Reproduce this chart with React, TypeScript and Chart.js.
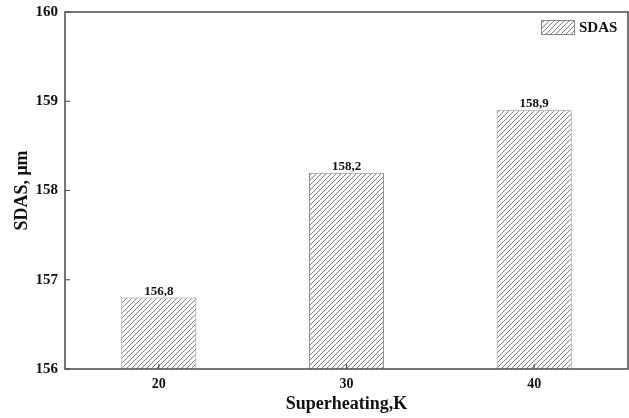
import React, { useEffect, useRef } from "react";
import { Chart, registerables } from "chart.js";

Chart.register(...registerables);

const categories = ["20", "30", "40"];
const sdasValues = [156.8, 158.2, 158.9];
const valueLabels = ["156,8", "158,2", "158,9"];
const yTicks = [156, 157, 158, 159, 160];
const seriesName = "SDAS";
const xTitle = "Superheating,K";
const yTitle = "SDAS, μm";

const FONT = "'Liberation Serif', 'Times New Roman', serif";

function makeHatch(): CanvasPattern | string {
  const s = 5;
  const c = document.createElement("canvas");
  c.width = s;
  c.height = s;
  const g = c.getContext("2d");
  if (!g) return "#fff";
  g.fillStyle = "#fff";
  g.fillRect(0, 0, s, s);
  g.strokeStyle = "#707070";
  g.lineWidth = 0.9;
  g.beginPath();
  g.moveTo(0, s);
  g.lineTo(s, 0);
  g.moveTo(-1, 1);
  g.lineTo(1, -1);
  g.moveTo(s - 1, s + 1);
  g.lineTo(s + 1, s - 1);
  g.stroke();
  const p = g.createPattern(c, "repeat");
  return p || "#fff";
}

export default function App() {
  const ref = useRef<HTMLCanvasElement | null>(null);

  useEffect(() => {
    document.body.style.margin = "0";
    const canvas = ref.current;
    if (!canvas) return;
    const hatch = makeHatch();

    const decor = {
      id: "decor",
      afterDatasetsDraw(chart: any) {
        const { ctx, chartArea, scales } = chart;
        const { left, right, top, bottom } = chartArea;
        ctx.save();
        // frame
        ctx.strokeStyle = "#4a4a4a";
        ctx.lineWidth = 1.5;
        ctx.strokeRect(left, top, right - left, bottom - top);
        // inward ticks
        ctx.lineWidth = 1.2;
        ctx.beginPath();
        yTicks.forEach((v) => {
          const y = scales.y.getPixelForValue(v);
          ctx.moveTo(left, y);
          ctx.lineTo(left + 5, y);
        });
        categories.forEach((_, i) => {
          const x = scales.x.getPixelForValue(i);
          ctx.moveTo(x, bottom);
          ctx.lineTo(x, bottom - 5);
        });
        ctx.stroke();
        // value labels
        ctx.fillStyle = "#111";
        ctx.font = `bold 13px ${FONT}`;
        ctx.textAlign = "center";
        ctx.textBaseline = "alphabetic";
        const meta = chart.getDatasetMeta(0);
        meta.data.forEach((bar: any, i: number) => {
          ctx.fillText(valueLabels[i], bar.x, bar.y - 3);
        });
        // legend
        const bx = 541, by = 20, bw = 34, bh = 15;
        ctx.fillStyle = hatch as any;
        ctx.fillRect(bx, by, bw, bh);
        ctx.strokeStyle = "#888";
        ctx.lineWidth = 1;
        ctx.strokeRect(bx + 0.5, by + 0.5, bw - 1, bh - 1);
        ctx.fillStyle = "#111";
        ctx.font = `bold 15px ${FONT}`;
        ctx.textAlign = "left";
        ctx.textBaseline = "middle";
        ctx.fillText(seriesName, 579, by + bh / 2 + 1);
        ctx.restore();
      },
    };

    const chart = new Chart(canvas, {
      type: "bar",
      data: {
        labels: categories,
        datasets: [
          {
            label: seriesName,
            data: sdasValues,
            backgroundColor: hatch as any,
            borderColor: "#8a8a8a",
            borderWidth: 1,
            barPercentage: 0.4,
            categoryPercentage: 1,
          },
        ],
      },
      options: {
        responsive: false,
        animation: false,
        maintainAspectRatio: false,
        layout: { padding: { top: 12, right: 1, left: 0, bottom: 0 } },
        plugins: {
          legend: { display: false },
          tooltip: { enabled: false },
        },
        scales: {
          x: {
            type: "category",
            offset: true,
            grid: { display: false, drawTicks: false },
            border: { display: false },
            ticks: {
              color: "#111",
              font: { family: FONT, size: 14, weight: "bold" },
              padding: 7,
            },
            title: {
              display: true,
              text: xTitle,
              color: "#111",
              font: { family: FONT, size: 18, weight: "bold" },
              padding: { top: 0, bottom: 3 },
            },
            afterFit(scale: any) {
              scale.height = 49;
              scale.paddingLeft = 0;
              scale.paddingRight = 0;
            },
          },
          y: {
            min: 156,
            max: 160,
            afterBuildTicks(scale: any) {
              scale.ticks = yTicks.map((v) => ({ value: v }));
            },
            grid: { display: false, drawTicks: false },
            border: { display: false },
            ticks: {
              color: "#111",
              font: { family: FONT, size: 15, weight: "bold" },
              padding: 7,
            },
            title: {
              display: true,
              text: yTitle,
              color: "#111",
              font: { family: FONT, size: 18, weight: "bold" },
              padding: { top: 12, bottom: 0 },
            },
            afterFit(scale: any) {
              scale.width = 65;
              scale.paddingTop = 0;
              scale.paddingBottom = 0;
            },
          },
        },
      },
      plugins: [decor],
    });

    return () => chart.destroy();
  }, []);

  return (
    <div style={{ width: 629, height: 418, background: "#fff" }}>
      <canvas ref={ref} width={629} height={418} style={{ display: "block" }} />
    </div>
  );
}
